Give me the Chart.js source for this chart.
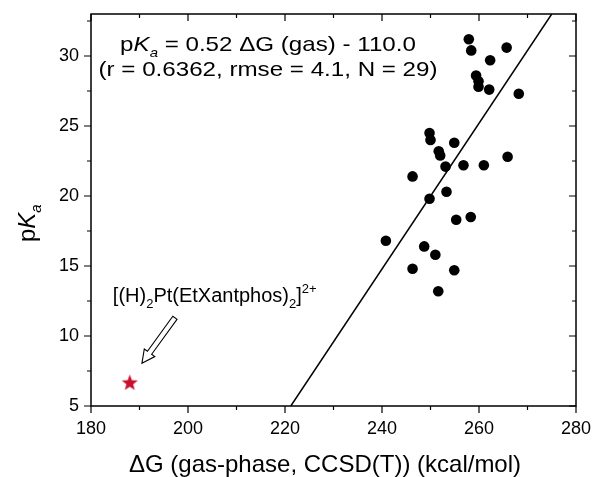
<!DOCTYPE html>
<html>
<head>
<meta charset="utf-8">
<script src="https://cdn.jsdelivr.net/npm/chart.js@4.4.1/dist/chart.umd.min.js"></script>
<style>
  html, body { margin: 0; padding: 0; background: #fff; }
</style>
</head>
<body>
<canvas id="chart" width="594" height="477"></canvas>
<script>
// gas-phase dG (kcal/mol) and experimental pKa of the hydride set
const dG = [257.9, 258.4, 265.7, 262.3, 259.4, 259.9, 259.9, 262.1, 268.2, 249.8,
            250.0, 254.9, 251.7, 252.0, 253.1, 256.8, 261.0, 265.9, 246.3, 253.3,
            249.8, 255.3, 258.3, 240.8, 248.7, 251.0, 246.3, 254.9, 251.6];
const pKa = [31.2, 30.4, 30.6, 29.7, 28.6, 28.2, 27.8, 27.6, 27.3, 24.5,
             24.0, 23.8, 23.2, 22.9, 22.1, 22.2, 22.2, 22.8, 21.4, 20.3,
             19.8, 18.3, 18.5, 16.8, 16.4, 15.8, 14.8, 14.7, 13.2];

// the Pt complex (red star)
const starX = [188.0];
const starY = [6.7];

// end points of the fitted line
const fitX = [221.2, 275.0];
const fitY = [5.0, 33.0];

// axis ticks
const xTicks = [180, 200, 220, 240, 260, 280];
const xMinor = [190, 210, 230, 250, 270];
const yTicks = [5, 10, 15, 20, 25, 30];
const yMinor = [7.5, 12.5, 17.5, 22.5, 27.5, 32.5];

const FONT = "'Liberation Sans', Arial, sans-serif";

// filled five point star used as point style
function makeStar(r, color) {
    const c = document.createElement('canvas');
    const s = Math.ceil(r * 2 + 2);
    c.width = s; c.height = s;
    const g = c.getContext('2d');
    g.translate(s / 2, s / 2 + r * 0.1);
    g.beginPath();
    for (let i = 0; i < 10; i++) {
        const rad = i % 2 === 0 ? r : r * 0.42;
        const a = -Math.PI / 2 + i * Math.PI / 5;
        g.lineTo(rad * Math.cos(a), rad * Math.sin(a));
    }
    g.closePath();
    g.fillStyle = color;
    g.fill();
    return c;
}

// draw a run of text pieces: [text, size, italic, dy]
function drawParts(ctx, parts, x, y, align, sx) {
    const f = p => (p[2] ? 'italic ' : '') + p[1] + 'px ' + FONT;
    let w = 0;
    parts.forEach(p => { ctx.font = f(p); w += ctx.measureText(p[0]).width; });
    ctx.save();
    ctx.translate(x, y);
    ctx.scale(sx, 1);
    let cx = align === 'center' ? -w / 2 : 0;
    ctx.textAlign = 'left';
    ctx.textBaseline = 'alphabetic';
    parts.forEach(p => {
        ctx.font = f(p);
        ctx.fillText(p[0], cx, p[3]);
        cx += ctx.measureText(p[0]).width;
    });
    ctx.restore();
}

// hollow arrow from tail to tip (pixels)
function hollowArrow(ctx, tx, ty, px, py) {
    const len = Math.hypot(px - tx, py - ty);
    const dx = (px - tx) / len, dy = (py - ty) / len;
    const nx = -dy, ny = dx;
    const hw = 2.6, hh = 6.5, hl = 13;
    const bx = px - dx * hl, by = py - dy * hl;
    ctx.beginPath();
    ctx.moveTo(tx + nx * hw, ty + ny * hw);
    ctx.lineTo(bx + nx * hw, by + ny * hw);
    ctx.lineTo(bx + nx * hh, by + ny * hh);
    ctx.lineTo(px, py);
    ctx.lineTo(bx - nx * hh, by - ny * hh);
    ctx.lineTo(bx - nx * hw, by - ny * hw);
    ctx.lineTo(tx - nx * hw, ty - ny * hw);
    ctx.closePath();
    ctx.fillStyle = '#fff';
    ctx.fill();
    ctx.lineWidth = 1.1;
    ctx.strokeStyle = '#000';
    ctx.stroke();
}

// frame, mirrored ticks, axis titles and the text annotations
const framePlugin = {
    id: 'frame',
    afterDraw(chart) {
        const { ctx, chartArea: a, scales: { x, y } } = chart;
        ctx.save();
        ctx.strokeStyle = '#000';
        ctx.lineWidth = 1.5;
        ctx.strokeRect(a.left, a.top, a.right - a.left, a.bottom - a.top);

        ctx.lineWidth = 1.2;
        ctx.beginPath();
        const xt = (v, len) => {
            const p = x.getPixelForValue(v);
            ctx.moveTo(p, a.bottom); ctx.lineTo(p, a.bottom + len);
            ctx.moveTo(p, a.top); ctx.lineTo(p, a.top + len);
        };
        const yt = (v, len) => {
            const p = y.getPixelForValue(v);
            ctx.moveTo(a.left, p); ctx.lineTo(a.left - len, p);
            ctx.moveTo(a.right, p); ctx.lineTo(a.right - len, p);
        };
        xTicks.forEach(v => xt(v, 7));
        xMinor.forEach(v => xt(v, 4));
        yTicks.forEach(v => yt(v, 7));
        yMinor.forEach(v => yt(v, 4));
        ctx.stroke();

        ctx.fillStyle = '#000';
        // x axis title
        drawParts(ctx, [['\u0394G (gas-phase, CCSD(T)) (kcal/mol)', 24, false, 0]],
                  325, 472, 'center', 1);

        // y axis title pKa
        ctx.save();
        ctx.translate(35, 242);
        ctx.rotate(-Math.PI / 2);
        drawParts(ctx, [['p', 24, false, 0], ['K', 24, true, 0], ['a', 15, true, 6]], 0, 0, 'left', 1);
        ctx.restore();

        // fit equation
        const ex = x.getPixelForValue(216.5);
        drawParts(ctx, [['p', 21, false, 0], ['K', 21, true, 0], ['a', 13, true, 6],
                        [' = 0.52 \u0394G (gas) - 110.0', 21, false, 0]],
                  ex, y.getPixelForValue(30.36), 'center', 1.15);
        drawParts(ctx, [['(r = 0.6362, rmse = 4.1, N = 29)', 21, false, 0]],
                  ex, y.getPixelForValue(28.6), 'center', 1.15);

        // label of the Pt complex
        drawParts(ctx, [['[(H)', 20, false, 0], ['2', 13, false, 6], ['Pt(EtXantphos)', 20, false, 0],
                        ['2', 13, false, 6], [']', 20, false, 0], ['2+', 13, false, -9]],
                  x.getPixelForValue(184.5), y.getPixelForValue(12.4), 'left', 1.0);
        hollowArrow(ctx, x.getPixelForValue(197.3), y.getPixelForValue(11.3),
                    x.getPixelForValue(190.5), y.getPixelForValue(8.05));
        ctx.restore();
    }
};

// fixed axis box sizes, no extra room for overhanging labels
function fixX(s) {
    s.height = 71;
    s.paddingLeft = 0; s.paddingRight = 0;
}
function fixY(s) {
    s.width = 91;
    s.paddingTop = 0; s.paddingBottom = 0;
}

const ctx = document.getElementById('chart').getContext('2d');
new Chart(ctx, {
    type: 'scatter',
    data: {
        datasets: [{
            data: fitX.map((v, i) => ({ x: v, y: fitY[i] })),
            showLine: true,
            borderColor: '#000',
            borderWidth: 1.5,
            pointRadius: 0
        }, {
            data: dG.map((v, i) => ({ x: v, y: pKa[i] })),
            backgroundColor: '#000',
            borderColor: '#000',
            pointRadius: 5.3,
            borderWidth: 0
        }, {
            data: starX.map((v, i) => ({ x: v, y: starY[i] })),
            pointStyle: makeStar(8.5, '#c8102e')
        }]
    },
    options: {
        responsive: false,
        animation: false,
        layout: { padding: { top: 14, right: 18, left: 0, bottom: 0 } },
        plugins: { legend: { display: false }, tooltip: { enabled: false } },
        scales: {
            x: {
                type: 'linear',
                min: 180, max: 280,
                afterFit: fixX,
                afterBuildTicks: s => { s.ticks = xTicks.map(v => ({ value: v })); },
                grid: { display: false, drawTicks: false },
                border: { display: false },
                ticks: { color: '#000', padding: 12, maxRotation: 0, font: { family: FONT, size: 18 } }
            },
            y: {
                type: 'linear',
                min: 5, max: 33,
                afterFit: fixY,
                afterBuildTicks: s => { s.ticks = yTicks.map(v => ({ value: v })); },
                grid: { display: false, drawTicks: false },
                border: { display: false },
                ticks: { color: '#000', padding: 12, font: { family: FONT, size: 18 } }
            }
        }
    },
    plugins: [framePlugin]
});
</script>
</body>
</html>
